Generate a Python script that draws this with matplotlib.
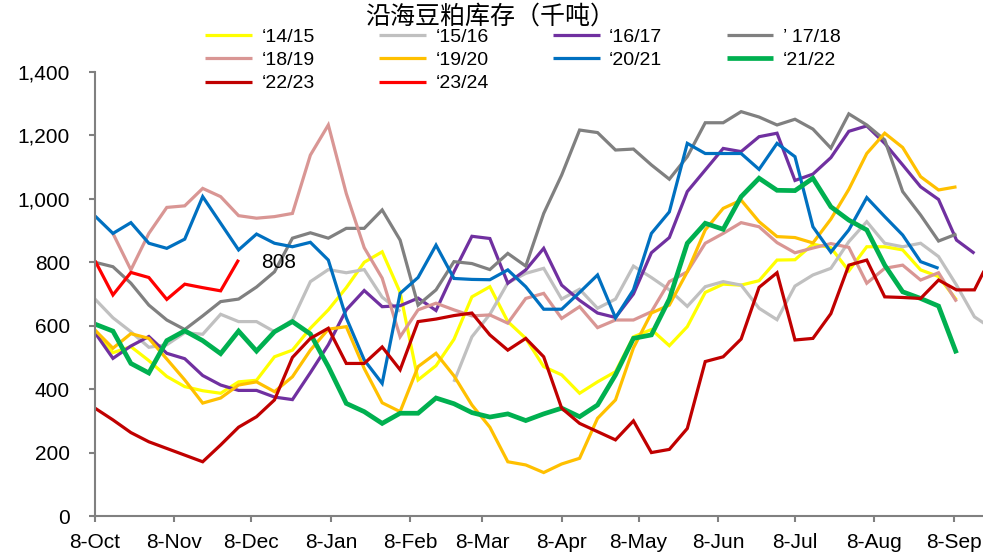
import numpy as np
import matplotlib
matplotlib.use("Agg")
import matplotlib.pyplot as plt
from matplotlib.ticker import FuncFormatter

plt.rcParams['font.family'] = ['Liberation Sans', 'Noto Sans CJK SC', 'DejaVu Sans']

nan = np.nan

title = "沿海豆粕库存（千吨）"

seasons = ["‘14/15", "‘15/16", "‘16/17", "’ 17/18", "‘18/19",
           "‘19/20", "‘20/21", "‘21/22", "‘22/23", "‘23/24"]

colors = ["#FFFF00", "#C0C0C0", "#7030A0", "#808080", "#D99694",
          "#FFC000", "#0070C0", "#00B050", "#C00000", "#FF0000"]

# weekly stocks (kt), week 0 = 8-Oct
s1415 = [586, 515, 534, 490, 440, 408, 395, 387, 423, 428, 502, 523, 592, 650,
         720, 800, 833, 705, 429, 474, 557, 691, 723, 613, 560, 471, 445, 387,
         423, 455, 565, 588, 537, 597, 705, 731, 728, 742, 807, 808, 857, 846,
         773, 849, 849, 839, 776, 755, 681]
s1516 = [684, 625, 581, 532, 540, 578, 573, 636, 613, 613, 581, 618, 739, 777,
         767, 777, 690, 645, nan, nan, 423, 565, 636, 735, 765, 781, 684, 715,
         655, 684, 788, 752, 713, 661, 723, 739, 728, 655, 619, 725, 760, 781,
         865, 928, 860, 849, 860, 818, 728, 628, 590]
s1617 = [578, 497, 536, 566, 513, 496, 443, 413, 396, 396, 375, 367, 452, 540,
         650, 711, 660, 663, 687, 648, 770, 882, 875, 734, 776, 844, 728, 680,
         640, 626, 700, 830, 878, 1023, 1091, 1159, 1149, 1196, 1207, 1058, 1078,
         1130, 1213, 1230, 1175, 1107, 1038, 998, 870, 828]
s1718 = [800, 786, 734, 665, 618, 588, 631, 676, 684, 722, 770, 876, 893, 876,
         907, 907, 965, 870, 665, 713, 802, 796, 777, 828, 788, 954, 1075, 1217,
         1209, 1154, 1157, 1107, 1062, 1133, 1240, 1240, 1275, 1258, 1233, 1251,
         1220, 1160, 1268, 1233, 1186, 1023, 949, 867, 889]
s1819 = [nan, 891, 776, 891, 973, 978, 1033, 1007, 947, 939, 944, 954, 1138, 1233,
         1017, 846, 750, 565, 650, 671, 650, 631, 634, 608, 686, 702, 623, 660,
         594, 618, 618, 644, 739, 770, 860, 891, 925, 912, 862, 830, 845, 859,
         847, 734, 781, 791, 744, 767, 676]
s1920 = [586, 529, 575, 560, 495, 429, 356, 372, 413, 423, 392, 439, 523, 589,
         597, 465, 357, 329, 471, 513, 442, 350, 280, 171, 161, 137, 164, 182,
         308, 366, 530, 640, 665, 770, 902, 970, 996, 928, 881, 878, 861, 936,
         1030, 1143, 1207, 1162, 1070, 1028, 1038]
s2021 = [946, 891, 925, 860, 844, 873, 1007, 923, 839, 889, 860, 849, 863, 807,
         625, 492, 418, 702, 752, 854, 749, 746, 745, 776, 723, 652, 652, 705,
         760, 625, 713, 891, 959, 1175, 1143, 1143, 1143, 1093, 1175, 1133, 912,
         832, 902, 1004, 944, 886, 802, 781]
s2122 = [605, 583, 481, 451, 553, 584, 553, 512, 583, 520, 581, 613, 574, 471,
         355, 329, 292, 324, 324, 372, 354, 326, 312, 322, 301, 322, 340, 313,
         350, 445, 560, 571, 684, 860, 923, 904, 1007, 1065, 1027, 1026, 1065,
         975, 933, 902, 791, 707, 686, 662, 513]
s2223 = [340, 303, 263, 234, 213, 192, 171, 224, 280, 313, 366, 500, 560, 592,
         481, 481, 533, 461, 613, 621, 632, 640, 571, 523, 560, 502, 340, 292,
         266, 240, 300, 200, 210, 276, 487, 502, 558, 721, 767, 555, 560, 638,
         791, 807, 691, 689, 686, 744, 713, 713, 825]
s2324 = [805, 697, 768, 752, 683, 731, 720, 710, 808]

series = [s1415, s1516, s1617, s1718, s1819, s1920, s2021, s2122, s2223, s2324]

month_days = [0, 31, 61, 92, 123, 151, 182, 212, 243, 273, 304, 335]
month_labels = ["8-Oct", "8-Nov", "8-Dec", "8-Jan", "8-Feb", "8-Mar",
                "8-Apr", "8-May", "8-Jun", "8-Jul", "8-Aug", "8-Sep"]
y_ticks = [0, 200, 400, 600, 800, 1000, 1200, 1400]

W, H = 983, 553
fig = plt.figure(figsize=(W / 100, H / 100), dpi=100)
ax = fig.add_axes([95 / W, 37 / H, 1 - 95 / W, (516 - 72) / H])

handles = []
for vals, name, col in zip(series, seasons, colors):
    days = 7 * np.arange(len(vals))
    lw = 3.4 if name == "‘21/22" else 2.3
    h, = ax.plot(days, vals, color=col, lw=lw, label=name,
                 solid_joinstyle='miter', solid_capstyle='butt')
    handles.append(h)

# value label at the latest point of the current season
last_day = 7 * (len(s2324) - 1)
ax.annotate(f"{s2324[-1]}", xy=(last_day, s2324[-1]), xytext=(16, -2),
            textcoords='offset points', ha='left', va='center', fontsize=15)

ax.set_xlim(0, (W - 95) / 2.564)
ax.set_ylim(0, 1400)
ax.set_xticks(month_days)
ax.set_xticklabels(month_labels)
ax.set_yticks(y_ticks)
ax.yaxis.set_major_formatter(FuncFormatter(lambda v, p: f"{int(v):,}"))

for side in ("top", "right"):
    ax.spines[side].set_visible(False)
for side in ("left", "bottom"):
    ax.spines[side].set_color("#808080")
    ax.spines[side].set_linewidth(1.5)
ax.tick_params(axis='both', direction='out', length=4, width=1.5,
               color='#808080', labelsize=15)
ax.tick_params(axis='y', pad=14)
ax.tick_params(axis='x', pad=8)

# legend laid out in rows of four
order = [0, 4, 8, 1, 5, 9, 2, 6, 3, 7]
leg = fig.legend([handles[i] for i in order], [seasons[i] for i in order],
                 ncol=4, loc='upper left', bbox_to_anchor=(205 / W, 1 - 28 / H),
                 bbox_transform=fig.transFigure, frameon=False, fontsize=14,
                 handlelength=2.4, handletextpad=0.5, columnspacing=3.3,
                 labelspacing=0.3, borderpad=0, borderaxespad=0)

fig.text(490 / W, 1 - 17 / H, title, ha='center', va='center', fontsize=18,
         family=['Noto Sans CJK SC', 'DejaVu Sans'])

fig.savefig("out.png", dpi=100)
